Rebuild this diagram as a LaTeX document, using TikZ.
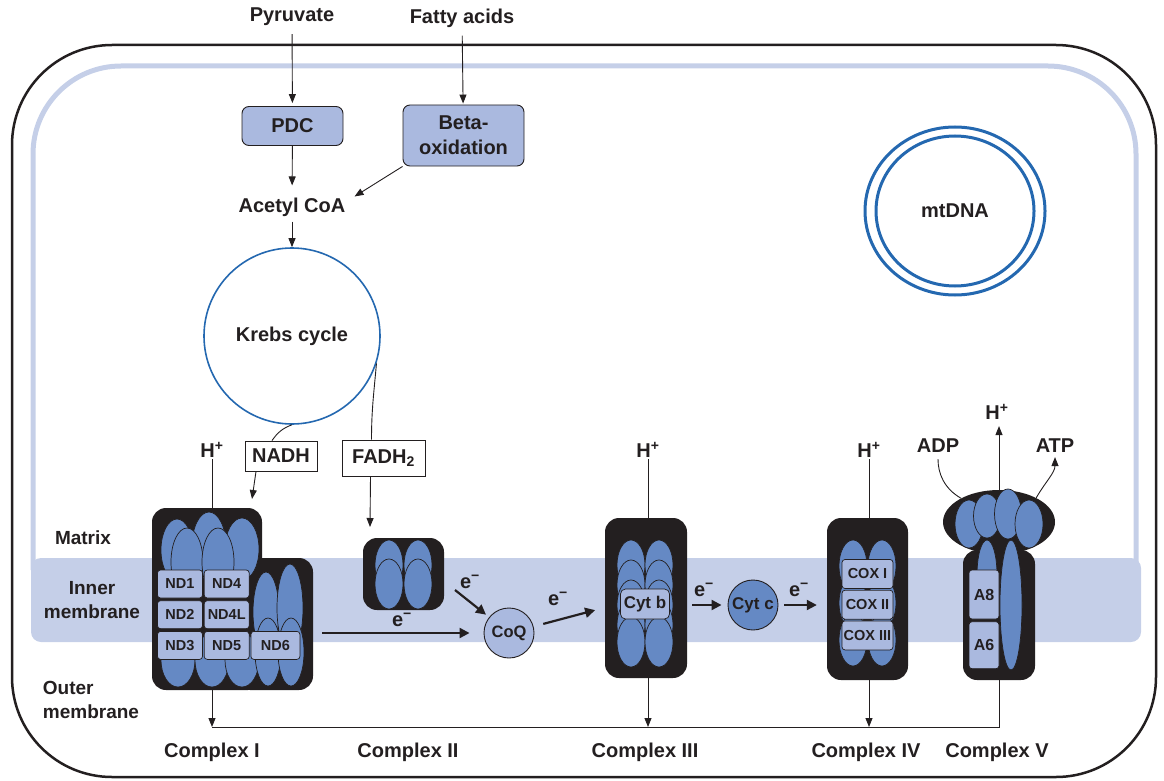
\documentclass[tikz,border=0pt]{standalone}
\usepackage{fontspec}
\setmainfont{Liberation Sans}
\usepackage{tikz}
\usetikzlibrary{positioning, shapes, arrows.meta}
\definecolor{membrane}{HTML}{C5CFE8}
\definecolor{boxfill}{HTML}{AAB9DF}
\definecolor{protein}{HTML}{6589C4}
\definecolor{dark}{HTML}{231F20}
\definecolor{ringblue}{HTML}{2468B0}
\newcommand{\elec}{e\textsuperscript{\char"2212}}
\newcommand{\hplus}{H\textsuperscript{+}}

\begin{document}
\begin{tikzpicture}[x=1pt, y=-1pt, font=\bfseries\fontsize{20}{23}\selectfont, text=dark,
  box/.style={draw=dark, fill=boxfill, rounded corners=7pt, line width=0.9pt, align=center, inner sep=0pt},
  tag/.style={draw=dark, fill=white, line width=0.9pt, inner sep=0pt},
  cplx/.style={fill=dark, rounded corners=14pt, inner sep=0pt},
  sub/.style={fill=protein, draw=dark, line width=0.7pt},
  nd/.style={draw=dark, fill=boxfill, rounded corners=3pt, line width=0.7pt, inner sep=0pt, minimum width=45pt, minimum height=28pt, font=\bfseries\fontsize{14.5}{16}\selectfont},
  carrier/.style={circle, draw=dark, line width=0.9pt, minimum size=50pt, inner sep=0pt},
  link/.style={draw=dark, line width=0.9pt},
  flow/.style={draw=dark, line width=0.9pt, -{Triangle[length=9pt, width=7pt]}},
  eflow/.style={draw=dark, line width=2.2pt, -{Triangle[length=10pt, width=10pt]}},
  lbl/.style={inner sep=1pt}]
  \useasboundingbox (0,0) rectangle (1164,781);

  % membranes
  \draw[dark, line width=2.5pt, rounded corners=100pt] (12,45) rectangle (1156,777);
  \draw[membrane, line width=5pt, rounded corners=88pt] (33,570) -- (33,66) -- (1136,66) -- (1136,570);
  \fill[membrane, rounded corners=10pt] (31,558) rectangle (1141,642);
  \node[lbl, font=\bfseries\fontsize{19}{24}\selectfont] (matrix) at (83,538) {Matrix};
  \node[lbl, align=center, font=\bfseries\fontsize{19}{24}\selectfont] (inner) at (92,600) {Inner\\membrane};
  \node[lbl, align=left, font=\bfseries\fontsize{19}{24}\selectfont] (outer) at (91,700) {Outer\\membrane};

  % substrates
  \node[lbl] (pyr) at (292,17) {Pyruvate};
  \node[lbl] (fatty) at (462,18) {Fatty acids};
  \node[box, minimum width=101pt, minimum height=39pt] (pdc) at (292.5,126) {PDC};
  \node[box, minimum width=121pt, minimum height=61pt, font=\bfseries\fontsize{20}{25}\selectfont] (beta) at (463.5,135.5) {Beta-\\oxidation};
  \node[lbl] (acetyl) at (292,207) {Acetyl CoA};
  \node[circle, draw=ringblue, line width=1.6pt, minimum size=176pt, inner sep=0pt] (krebs) at (292,336) {Krebs cycle};
  \node (mtdna) at (955,211) {mtDNA};
  \draw[ringblue, line width=3pt] (mtdna.center) ellipse [x radius=90, y radius=84];
  \draw[ringblue, line width=3pt] (mtdna.center) ellipse [x radius=79, y radius=75];

  \draw[flow, shorten <=7pt, shorten >=3pt] (pyr) -- (pdc);
  \draw[flow, shorten <=7pt, shorten >=1pt] (fatty) -- (beta);
  \draw[flow, shorten >=11pt] (pdc) -- (acetyl);
  \draw[flow] (beta.south west) -- ([xshift=8pt]acetyl.north east);
  \draw[flow, shorten <=4pt] (acetyl) -- (krebs);

  % reduced carriers
  \node[lbl] (h1) at (212,450) {\hplus};
  \node[tag, minimum width=72pt, minimum height=30pt] (nadh) at (281,456) {NADH};
  \node[tag, minimum width=83pt, minimum height=36pt] (fadh) at (383.5,458) {FADH\textsubscript{2}};
  \draw[link] (krebs.south) to[out=200, in=55] ([xshift=-9pt]nadh.north);
  \draw[link] (krebs.-18) to[out=-95, in=90] ([xshift=-12pt]fadh.north);

  % complex I
  \fill[dark, rounded corners=14pt] (152,508) rectangle (262,690);
  \fill[dark, rounded corners=14pt] (236,558) rectangle (313,690);
  \coordinate (c1in) at (252,499);
  \coordinate (c1top) at (212,508);
  \coordinate (c1bot) at (212,690);
  \coordinate (c1out) at (322,633);
  \foreach \x/\y/\rx/\ry in {178/660/17/27, 212/660/17/27, 242/660/17/27, 266/612/13/40, 290/608/13/44,
      268/652/13/34, 291/652/13/34, 177/550/16/31, 209/546/17/34, 242/549/17/31, 187/562/16/34, 218/562/16/34}
    \draw[sub] (\x,\y) ellipse [x radius=\rx, y radius=\ry];
  \node[nd] (nd1) at (180,584) {ND1};
  \node[nd, right=1pt of nd1] (nd4) {ND4};
  \node[nd, below=2pt of nd1] (nd2) {ND2};
  \node[nd, right=1pt of nd2] (nd4l) {ND4L};
  \node[nd, below=2pt of nd2] (nd3) {ND3};
  \node[nd, right=1pt of nd3] (nd5) {ND5};
  \node[nd, right=1pt of nd5, minimum width=49pt] (nd6) {ND6};

  % complex II
  \node[cplx, minimum width=81pt, minimum height=72pt] (c2) at (403.5,574) {};
  \foreach \x/\y in {389/565, 418/565, 389/584, 418/584}
    \draw[sub] (\x,\y) ellipse [x radius=14, y radius=25];
  \coordinate (c2in) at (370,527);
  \coordinate (c2out) at (455,590);

  % coenzyme Q
  \node[carrier, fill=boxfill, font=\bfseries\fontsize{16.5}{18}\selectfont] (coq) at (509,633) {CoQ};

  % complex III
  \node[lbl] (h3) at (648,450) {\hplus};
  \node[cplx, minimum width=82pt, minimum height=160pt] (c3) at (646,598) {};
  \foreach \y in {565,585,605,625,642}
    \foreach \x in {631,659}
      \draw[sub] (\x,\y) ellipse [x radius=14, y radius=25];
  \node[nd, minimum width=49pt, minimum height=30pt, rounded corners=5pt, font=\bfseries\fontsize{17}{19}\selectfont] (cytb) at (645,604) {Cyt b};

  % cytochrome c
  \node[carrier, fill=protein, font=\bfseries\fontsize{17}{19}\selectfont] (cytc) at (753,605) {Cyt c};

  % complex IV
  \node[lbl] (h4) at (869,450) {\hplus};
  \node[cplx, minimum width=81pt, minimum height=162pt] (c4) at (867.5,599) {};
  \foreach \y in {566,603,640}
    \foreach \x in {853,882}
      \draw[sub] (\x,\y) ellipse [x radius=14, y radius=26];
  \node[nd, minimum width=51pt, minimum height=29pt] (cox1) at (867.5,574) {COX I};
  \node[nd, minimum width=51pt, minimum height=29pt, below=1pt of cox1] (cox2) {COX II};
  \node[nd, minimum width=51pt, minimum height=29pt, below=1pt of cox2] (cox3) {COX III};

  % complex V
  \node[lbl] (h5) at (997,412) {\hplus};
  \node[lbl] (adp) at (938,446) {ADP};
  \node[lbl] (atp) at (1055,446) {ATP};
  \node[cplx, minimum width=72pt, minimum height=130pt] (c5) at (999,615) {};
  \node[ellipse, fill=dark, minimum width=112pt, minimum height=64pt, inner sep=0pt] (c5head) at (999,522) {};
  \foreach \x/\y/\rx/\ry in {987/575/10/35, 1011/605/11/65, 969/524/14/24, 987/516/13.5/22, 1008/514/13.5/25, 1029/524/14/24}
    \draw[sub] (\x,\y) ellipse [x radius=\rx, y radius=\ry];
  \node[nd, minimum width=30pt, minimum height=49pt, font=\bfseries\fontsize{16}{18}\selectfont] (a8) at (984,594.5) {A8};
  \node[nd, minimum width=30pt, minimum height=47pt, font=\bfseries\fontsize{16}{18}\selectfont, below=2pt of a8] (a6) {A6};

  % protons and electrons
  \draw[link] (h1) -- (c1top);
  \draw[link] (h3) -- (h3 |- c3.north);
  \draw[link] (h4) -- (h4 |- c4.north);
  \draw[flow, shorten >=5pt] (c5head.north) -- (c5head.north |- h5.south);
  \draw[link, shorten <=5pt] (adp.south) to[out=-90, in=150] (c5head.148);
  \draw[flow, shorten >=3pt] (c5head.33) to[out=60, in=-90] (atp.south);
  \draw[flow] ([xshift=-25pt]nadh.south) -- (c1in);
  \draw[flow] ([xshift=-13pt]fadh.south) -- (c2in);

  \draw[eflow, shorten >=14pt] (c1out) -- (coq);
  \draw[eflow, shorten >=4pt] (c2out) -- (coq);
  \draw[eflow, shorten <=10pt, shorten >=10pt] (coq) -- (c3.west |- coq.north);
  \draw[eflow, shorten <=5pt, shorten >=6pt] (c3.east |- cytc) -- (cytc.west);
  \draw[eflow, shorten <=6pt, shorten >=10pt] (cytc.east) -- (c4.west |- cytc);
  \node[lbl] (e1) at (470,582) {\elec};
  \node[lbl] (e2) at (402,620) {\elec};
  \node[lbl] (e3) at (558,599) {\elec};
  \node[lbl] (e4) at (704,590) {\elec};
  \node[lbl] (e5) at (799,590) {\elec};

  % complexes to labels
  \coordinate (bus) at (212,727);
  \draw[flow] (c1bot) -- (bus);
  \draw[flow] (h3 |- c3.south) -- (h3 |- bus);
  \draw[flow] (h4 |- c4.south) -- (h4 |- bus);
  \draw[link] (c5.south) |- (bus);
  \node[lbl] (cl1) at (212,752) {Complex I};
  \node[lbl] (cl2) at (408,752) {Complex II};
  \node[lbl] (cl3) at (645,752) {Complex III};
  \node[lbl] (cl4) at (866,752) {Complex IV};
  \node[lbl] (cl5) at (997,752) {Complex V};
\end{tikzpicture}
\end{document}
